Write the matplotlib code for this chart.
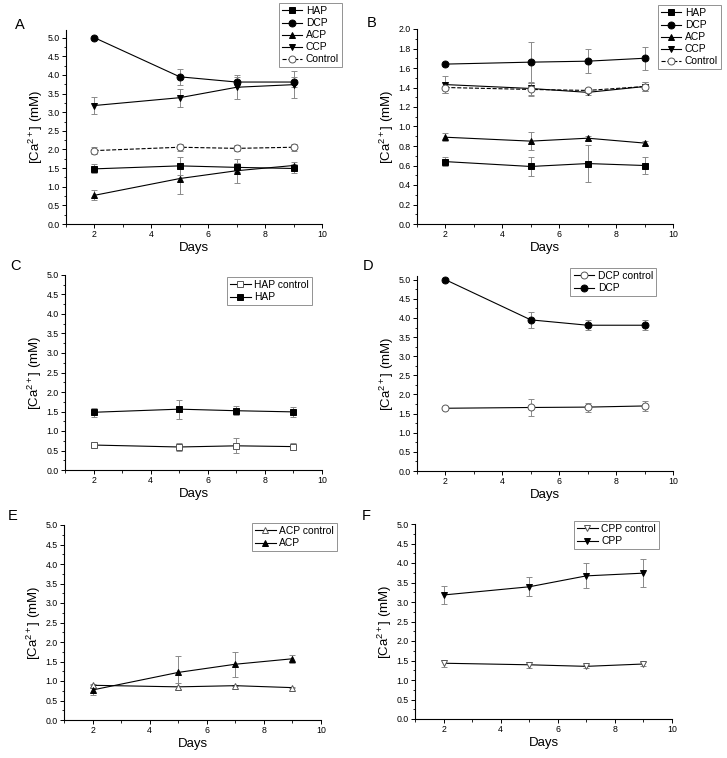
import matplotlib
matplotlib.use("Agg")
import matplotlib.pyplot as plt
from matplotlib.ticker import MultipleLocator
import numpy as np

plt.rcParams['font.family'] = ['Liberation Sans', 'DejaVu Sans']
plt.rcParams['mathtext.fontset'] = 'custom'
plt.rcParams['mathtext.rm'] = 'Liberation Sans'
plt.rcParams['mathtext.it'] = 'Liberation Sans'

days = [2, 5, 7, 9]

# Panel A (with calcium phosphates)
hap = [1.48, 1.56, 1.52, 1.49]
hap_err = [0.12, 0.24, 0.12, 0.12]
dcp = [5.0, 3.95, 3.81, 3.81]
dcp_err = [0.0, 0.21, 0.13, 0.13]
acp = [0.77, 1.22, 1.43, 1.57]
acp_err = [0.13, 0.42, 0.32, 0.10]
ccp = [3.18, 3.39, 3.67, 3.74]
ccp_err = [0.24, 0.24, 0.32, 0.36]
ctrl = [1.97, 2.06, 2.03, 2.06]
ctrl_err = [0.10, 0.10, 0.08, 0.10]

# Panel B (controls)
hap_c = [0.64, 0.59, 0.62, 0.60]
hap_c_err = [0.05, 0.10, 0.19, 0.09]
dcp_c = [1.64, 1.66, 1.67, 1.70]
dcp_c_err = [0.0, 0.21, 0.12, 0.12]
acp_c = [0.89, 0.85, 0.88, 0.83]
acp_c_err = [0.04, 0.09, 0.02, 0.02]
ccp_c = [1.43, 1.39, 1.35, 1.41]
ccp_c_err = [0.09, 0.07, 0.03, 0.05]
ctrl_c = [1.40, 1.38, 1.37, 1.41]
ctrl_c_err = [0.06, 0.07, 0.03, 0.05]

fig = plt.figure(figsize=(7.27, 7.58), dpi=100)
W, H = 727.0, 758.0

def make_ax(left, right, bottom, top, ymax, ystep):
    # positions given in pixel coordinates of the figure (y from top)
    ax = fig.add_axes([left / W, 1 - bottom / H, (right - left) / W,
                       (bottom - top) / H])
    ax.set_xlim(1, 10)
    ax.set_ylim(0, ymax)
    ax.spines['top'].set_visible(False)
    ax.spines['right'].set_visible(False)
    for s in ('left', 'bottom'):
        ax.spines[s].set_linewidth(0.8)
    ax.xaxis.set_major_locator(MultipleLocator(2))
    ax.xaxis.set_minor_locator(MultipleLocator(1))
    ax.yaxis.set_major_locator(MultipleLocator(ystep))
    ax.yaxis.set_minor_locator(MultipleLocator(ystep / 2))
    ax.tick_params(which='major', direction='out', length=3, width=0.7,
                   labelsize=6.3, pad=1.5)
    ax.tick_params(which='minor', direction='out', length=1.8, width=0.6)
    ax.yaxis.set_major_formatter(matplotlib.ticker.FormatStrFormatter('%.1f'))
    ax.set_xlabel('Days', fontsize=9.5, labelpad=2)
    ax.set_ylabel('[Ca$^{2+}$] (mM)', fontsize=9.5, labelpad=2)
    return ax

def series(ax, y, err, marker, fill, label, ls='-'):
    ax.errorbar(days, y, yerr=err, fmt='none', ecolor='#8a8a8a',
                elinewidth=0.7, capsize=2, capthick=0.7, zorder=2)
    mfc = 'black' if fill else 'white'
    ax.plot(days, y, color='black', linestyle=ls, linewidth=0.8,
            marker=marker, markersize=5, markerfacecolor=mfc,
            markeredgecolor='black' if fill else '#555555',
            markeredgewidth=0.7, label=label, zorder=3)

def legend(ax, right_px, top_px):
    lg = ax.legend(loc='upper right', bbox_to_anchor=(right_px / W, 1 - top_px / H),
                   bbox_transform=fig.transFigure, fontsize=7.4, frameon=True,
                   fancybox=False, edgecolor='#777777', handlelength=2.0,
                   handletextpad=0.35, borderpad=0.3, labelspacing=0.2,
                   borderaxespad=0)
    lg.get_frame().set_linewidth(0.7)

# A
axA = make_ax(66, 322, 224, 224 - 5.2 * (224 - 37.7) / 5.0, 5.2, 0.5)
series(axA, hap, hap_err, 's', True, 'HAP')
series(axA, dcp, dcp_err, 'o', True, 'DCP')
series(axA, acp, acp_err, '^', True, 'ACP')
series(axA, ccp, ccp_err, 'v', True, 'CCP')
series(axA, ctrl, ctrl_err, 'o', False, 'Control', ls='--')
legend(axA, 342, 3)

# B
axB = make_ax(417, 673, 224, 29, 2.0, 0.2)
series(axB, hap_c, hap_c_err, 's', True, 'HAP')
series(axB, dcp_c, dcp_c_err, 'o', True, 'DCP')
series(axB, acp_c, acp_c_err, '^', True, 'ACP')
series(axB, ccp_c, ccp_c_err, 'v', True, 'CCP')
series(axB, ctrl_c, ctrl_c_err, 'o', False, 'Control', ls='--')
legend(axB, 721, 5)

# C
axC = make_ax(65, 322, 470, 275, 5.0, 0.5)
series(axC, hap_c, hap_c_err, 's', False, 'HAP control')
series(axC, hap, hap_err, 's', True, 'HAP')
legend(axC, 312, 277)

# D
axD = make_ax(417, 673, 471, 279.7 - 0.1 * (471 - 279.7) / 5.0, 5.1, 0.5)
series(axD, dcp_c, dcp_c_err, 'o', False, 'DCP control')
series(axD, dcp, dcp_err, 'o', True, 'DCP')
legend(axD, 656, 268)

# E
axE = make_ax(64, 321, 720, 525, 5.0, 0.5)
series(axE, acp_c, acp_c_err, '^', False, 'ACP control')
series(axE, acp, acp_err, '^', True, 'ACP')
legend(axE, 337, 523)

# F
axF = make_ax(415, 672, 719, 524, 5.0, 0.5)
series(axF, ccp_c, ccp_c_err, 'v', False, 'CPP control')
series(axF, ccp, ccp_err, 'v', True, 'CPP')
legend(axF, 659, 521)

# Panel letters
for txt, x, y in [('A', 15, 18), ('B', 367, 16), ('C', 10, 259),
                  ('D', 363, 259), ('E', 8, 509), ('F', 362, 509)]:
    fig.text(x / W, 1 - y / H, txt, fontsize=10.5, va='top', ha='left')

fig.savefig('out.png', dpi=100)
